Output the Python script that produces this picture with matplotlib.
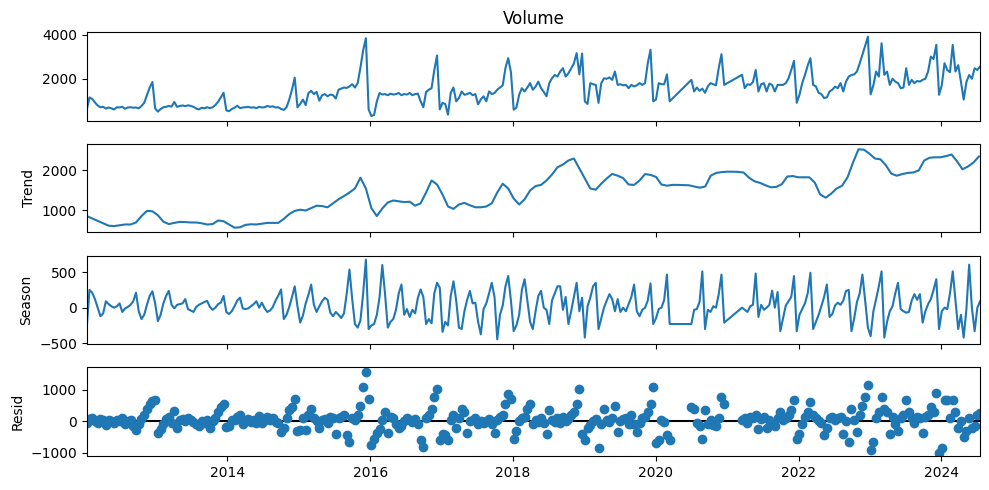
import matplotlib
matplotlib.use('Agg')
import matplotlib.pyplot as plt
import matplotlib.dates as mdates
import numpy as np
import pandas as pd

# STL decomposition of weekly volume, values read at two-week steps.
# The series has two gaps (spring 2020, winter 2020/21) that are drawn as straight joins.
seg_starts = ['2012-01-12', '2020-07-01', '2021-03-17']

volume_a = [
    590, 1150, 1080, 920, 780, 700, 720, 640, 690, 650, 600, 700, 690, 720, 630, 690, 700, 680, 690, 650, 760, 900, 1250, 1600, 1850, 650,
    500, 620, 700, 720, 760, 730, 940, 720, 760, 780, 750, 790, 760, 720, 640, 600, 680, 650, 700, 660, 700, 800, 950, 1150, 1360, 560,
    520, 620, 680, 770, 660, 690, 700, 720, 680, 700, 660, 720, 690, 700, 760, 720, 740, 690, 700, 620, 580, 700, 1050, 1500, 2050, 700,
    850, 1050, 800, 1350, 1450, 1300, 1400, 1000, 1250, 1300, 1200, 1280, 1250, 1100, 1500, 1550, 1600, 1580, 1650, 1750, 1600, 1800, 2500, 3300, 3850, 600,
    300, 350, 970, 1350, 1280, 1300, 1250, 1320, 1280, 1300, 1350, 1250, 1300, 1280, 1350, 1250, 1300, 1320, 970, 700, 1400, 1500, 1570, 2400, 3060, 600,
    900, 850, 360, 1360, 1600, 970, 1120, 1420, 1270, 1300, 1360, 1250, 1300, 830, 1060, 1200, 970, 1420, 1300, 1350, 1500, 1600, 1700, 2490, 2940, 2300,
    590, 680, 1270, 1570, 1420, 1600, 1800, 1500, 1640, 1870, 1570, 1400, 1200, 1800, 2020, 2170, 2100, 2330, 2480, 2100, 2250, 2480, 2700, 3170, 2200, 3150,
    970, 850, 1800, 1750, 1720, 900, 1800, 2020, 2000, 2060, 1950, 2330, 1720, 1750, 1700, 1720, 1570, 1720, 1650, 1700, 1800, 1720, 1800, 2710, 3320, 970,
    1050, 1800, 1750, 1750, 2200, 970,
]
volume_b = [1950, 1420, 1600, 1450, 1550, 1360, 1650, 1800, 1750, 1700, 2490, 3120, 1720]
volume_c = [
    2180, 1570, 1750, 1720, 1850, 2400, 1420, 1750, 1800, 1420,
    1780, 1720, 1420, 1720, 1720, 1720, 1800, 2020, 2400, 2820,
    900, 1270, 1800, 2170, 2600, 2940, 1720, 1650, 1360, 1300,
    1120, 1150, 1420, 1500, 1640, 1570, 1800, 1420, 1870, 2100,
    2170, 2200, 2330, 2700, 3100, 3500, 3920, 1290, 1700, 2330,
    2100, 3620, 2180, 2330, 1720, 2000, 1870, 1800, 1570, 1600,
    2480, 1720, 1950, 1800, 1900, 1870, 1950, 2000, 2330, 3010,
    2900, 3550, 1270, 1700, 2710, 2400, 2300, 3550, 2330, 2620,
    1870, 1050, 1850, 2170, 2000, 2480, 2400, 2560,
]

# trend, read every four weeks
trend_vals = [
    860, 800, 740, 680, 620, 610, 630, 650, 650, 700, 860, 990, 980,
    880, 720, 660, 690, 715, 710, 700, 700, 680, 650, 660, 750, 730,
    650, 570, 580, 640, 655, 650, 670, 690, 690, 690, 790, 910, 990,
    1020, 1000, 1060, 1120, 1110, 1080, 1180, 1280, 1360, 1450, 1550, 1820, 1550,
    1060, 860, 1050, 1200, 1250, 1230, 1210, 1220, 1120, 1180, 1450, 1750, 1650,
    1400, 1100, 1040, 1150, 1190, 1130, 1080, 1080, 1100, 1180, 1450, 1670, 1550,
    1300, 1150, 1280, 1500, 1610, 1640, 1750, 1900, 2080, 2150, 2250, 2300, 2050,
    1800, 1550, 1520, 1670, 1800, 1915, 1870, 1810, 1650, 1640, 1750, 1910, 1890,
    1840, 1650, 1620, 1640, 1640, 1635, 1630, 1600, 1570, 1600, 1870, 1940, 1960,
    1970, 1970, 1965, 1950, 1820, 1730, 1690, 1630, 1580, 1590, 1660, 1850, 1860,
    1830, 1830, 1830, 1700, 1400, 1320, 1420, 1550, 1620, 1830, 2200, 2530, 2520,
    2420, 2300, 2280, 2130, 1920, 1870, 1910, 1940, 1950, 2000, 2250, 2320, 2330,
    2330, 2360, 2400, 2230, 2030, 2100, 2200, 2350,
]

season_a = [
    -280, 250, 210, 120, 0, -120, -80, 90, 50, 20, 0, 20, 60, -60, -10, 10, 40, 90, 210, -50, -160, -100, 40, 165, 230, 60,
    -190, -100, 60, 165, 235, 40, -10, 40, 50, 60, 120, -20, -40, -60, 10, 40, 60, 80, 95, 10, -30, 0, 50, 70, 165, -60,
    -90, -50, 20, 100, 140, -10, -20, -10, 20, 50, 90, 0, 70, -10, -60, -40, 10, 100, 170, 256, -160, -100, 10, 150, 300, 20,
    -210, -110, 60, 180, 325, 40, -60, 20, 90, 140, 110, -70, -120, -60, -100, -145, -80, 200, 535, 120, -230, -280, -180, 200, 675, -300,
    -250, -230, -100, 150, 600, 190, -280, -200, -160, -30, 200, 325, -100, -20, -130, -30, -80, 140, 256, 150, -230, -160, -220, 200, 350, 280,
    -340, -200, -250, 165, 370, 100, -280, -300, -50, 110, 235, 60, 70, -200, -375, -20, 60, 200, 350, 150, -445, -100, 30, 300, 445, 100,
    -330, -250, -100, 250, 400, 100, -200, -300, -50, 165, 235, 0, -30, -230, 100, 200, 300, 300, -30, 150, -230, -50, 150, 350, -50, 140,
    -420, 20, 140, 300, 350, -300, -150, 0, 100, 190, 120, -50, 120, -60, 0, -50, 50, 150, 325, -50, -120, -30, 0, 100, 340, -230,
    -150, -20, 0, 110, 465, -230,
]
season_b = [-230, -30, -20, 80, 510, -300, -30, -60, 20, 0, 190, 465, -210]
season_c = [
    0, -30, -60, 20, 40, 480, -130, 40, -30, 0,
    40, 240, 0, 220, -330, -150, 30, 90, 150, 445,
    -330, -100, -20, 60, 200, 490, -300, -200, -100, 20,
    150, 325, -130, -90, 30, 70, 40, 100, 235, 250,
    -330, -150, 80, 200, 465, 100, -280, -400, -50, 120,
    300, 510, -420, -200, -50, 20, 200, 350, -20, -50,
    -70, -60, 100, 190, 110, 190, -210, -50, 50, 120,
    250, 400, -300, -50, 0, -20, 200, 510, 100, -300,
    -100, -420, -20, 605, 0, -330, 0, 90,
]

resid_a = [
    -60, 80, 100, 20, -50, 60, 40, -120, 30, 0, -40, 50, 20, 90, -80, 10, 40, -150, -280, -100, 60, 200, 400, 550, 650, 680,
    -380, -250, -100, 80, 150, -60, 330, -230, 50, 80, 20, 100, 40, -30, -80, -150, 20, -40, 50, -230, 0, 100, 300, 450, 540, -180,
    -150, 30, 50, 120, 200, -80, 20, 60, -30, 40, -60, 180, -40, 30, 120, 50, 100, -20, -60, -330, -200, 100, 350, 450, 720, -300,
    -280, 100, -280, 200, 400, 100, 0, -200, 50, 80, -50, 150, 100, -400, 100, 150, 200, -440, -650, 100, 50, 200, 500, 1080, 1580, 720,
    -740, -570, -380, -250, 50, 300, -380, 150, 100, -100, -230, -150, 0, 100, 50, -20, 60, -100, -600, -810, 100, 200, 400, 770, 1030, -600,
    -390, -450, -600, 50, 200, -200, 100, 400, 300, -360, 0, 50, 100, -100, 20, -50, 0, 80, -100, -360, 50, 150, 200, 560, 870, 720,
    -570, -300, 0, 100, 150, 400, 560, -100, 50, -30, 100, -50, -390, 350, 50, -20, 100, -40, 150, 0, 80, 200, 300, 560, 1030, -390,
    -600, -200, -120, 0, 60, -860, -100, 400, 50, -20, 100, 500, -350, 0, 80, 100, -100, 200, -80, -350, -50, 100, 150, 300, 560, 1080,
    -700, -600, 50, -20, -440, -600,
]
resid_b = [450, 380, -50, -150, -550, 350, -100, 50, -120, -150, 100, 770, 560]
resid_c = [
    50, 100, -50, 150, 100, 200, -250, 80, 120, -200,
    50, -100, -150, 100, 300, 50, 100, 200, 350, 660,
    -550, -400, -100, 150, 300, 600, 200, 100, 0, -50,
    -440, -200, 100, 150, 50, 100, 150, -400, 0, -650,
    400, 50, -350, 200, 500, 770, 1160, -920, -650, 100,
    300, 770, 400, 300, -400, 150, -100, -300, 100, 200,
    660, 300, 100, -50, 150, 100, -380, 150, 200, 450,
    300, 900, -1000, -860, 660, 660, 100, 660, 300, -200,
    0, -500, -300, 100, -200, -150, 200, 250,
]


def build(parts):
    # join the three segments onto one date index
    idx = [pd.date_range(s, periods=len(p), freq='14D') for s, p in zip(seg_starts, parts)]
    dates = idx[0].append(idx[1]).append(idx[2])
    return pd.Series(np.concatenate(parts), index=dates)


observed = build([volume_a, volume_b, volume_c])
season = build([season_a, season_b, season_c])
resid = build([resid_a, resid_b, resid_c])
trend = pd.Series(trend_vals, index=pd.date_range(seg_starts[0], periods=len(trend_vals), freq='28D'))

fig, axs = plt.subplots(4, 1, sharex=True, figsize=(9.89, 4.90), dpi=100)
fig.subplots_adjust(left=0.0877, right=0.991, top=0.935, bottom=0.069, hspace=0.26)

xlim = (observed.index[0], observed.index[-1])

axs[0].plot(observed.index, observed.values)
axs[0].set_title('Volume')
axs[0].set_ylim(90, 4140)
axs[0].set_yticks([2000, 4000])

axs[1].plot(trend.index, trend.values)
axs[1].set_ylabel('Trend')
axs[1].set_ylim(450, 2670)
axs[1].set_yticks([1000, 2000])

axs[2].plot(season.index, season.values)
axs[2].set_ylabel('Season')
axs[2].set_ylim(-515, 732)
axs[2].set_yticks([-500, 0, 500])

axs[3].plot(resid.index, resid.values, marker='o', linestyle='none')
axs[3].plot(xlim, (0, 0), color='#000000', zorder=-3)
axs[3].set_ylabel('Resid')
axs[3].set_ylim(-1110, 1710)
axs[3].set_yticks([-1000, 0, 1000])

for ax in axs:
    ax.set_xlim(xlim)
axs[3].xaxis.set_major_locator(mdates.YearLocator(2))
axs[3].xaxis.set_major_formatter(mdates.DateFormatter('%Y'))

plt.savefig('out.png', dpi=100)
